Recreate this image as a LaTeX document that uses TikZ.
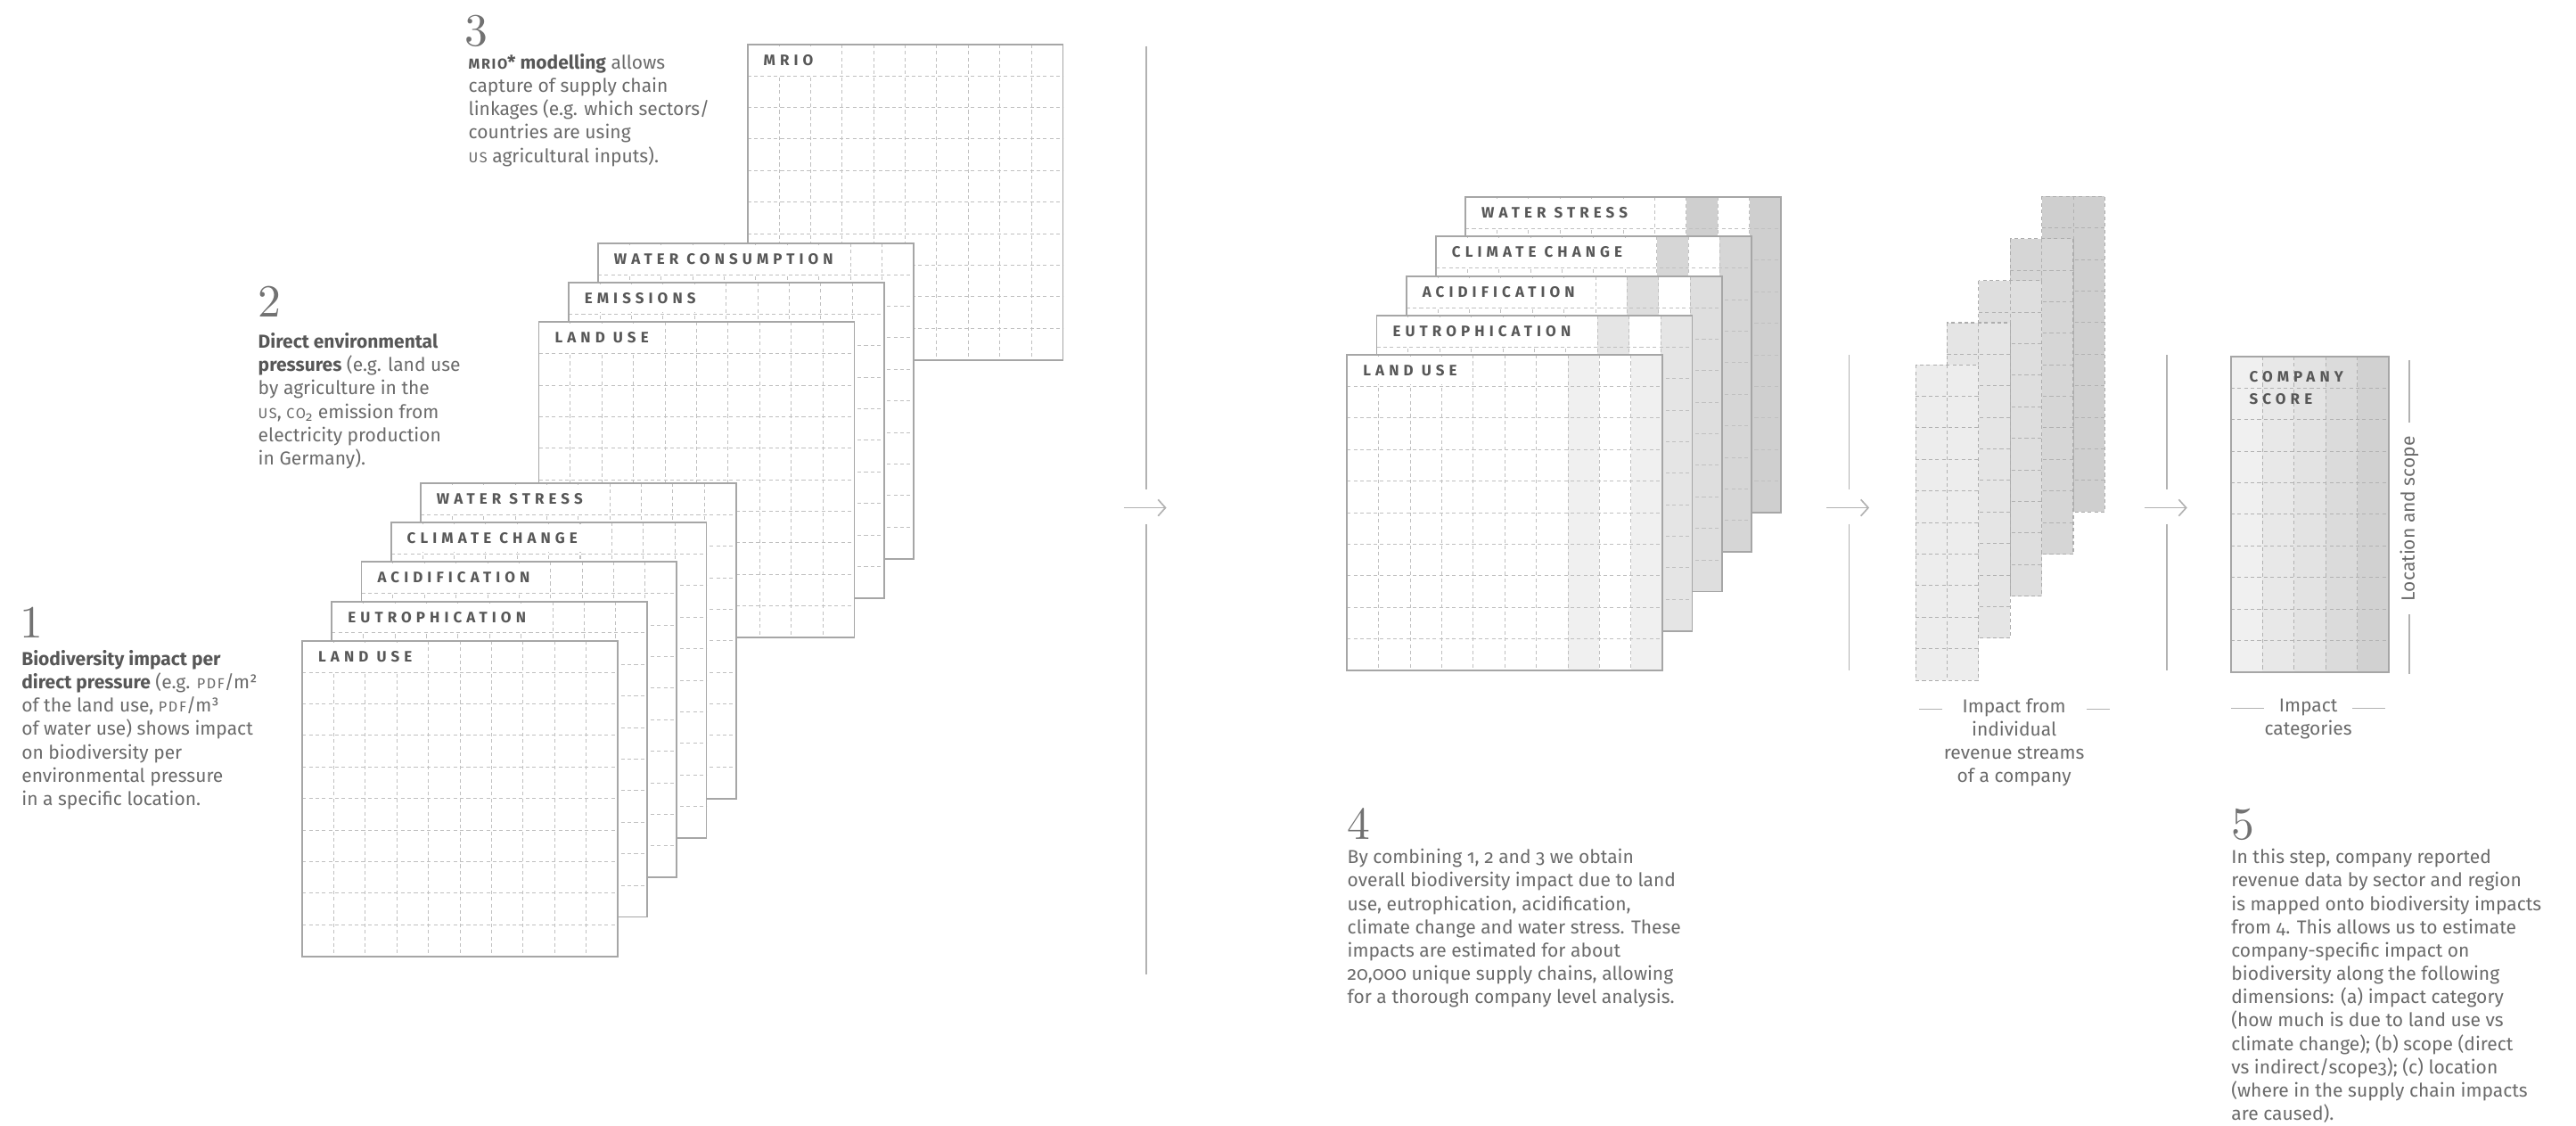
\documentclass[tikz,border=0pt]{standalone}
\usepackage{fontspec}
\setmainfont{Fira Sans}[Numbers=OldStyle]
\newfontfamily\labelfont{Fira Sans}[LetterSpace=30]
\newfontfamily\numfont{lmroman10-regular}[Extension=.otf]
\usepackage{xcolor}
\usepackage{tikz}
\usetikzlibrary{calc,arrows.meta,positioning}

\definecolor{inkgray}{HTML}{6A6A6A}
\definecolor{darkink}{HTML}{575757}
\definecolor{numgray}{HTML}{727272}
\definecolor{edgegray}{HTML}{A6A6A6}
\definecolor{dashgray}{HTML}{C0C0C0}
\definecolor{rulegray}{HTML}{B2B2B2}

% fake small caps and bold lead-ins
\newcommand{\smc}[1]{{\fontsize{8.8}{8.8}\selectfont\addfontfeature{LetterSpace=10}#1}}
\newcommand{\hl}[1]{{\bfseries\color{darkink}#1}}

\tikzset{
  cardline/.style={draw=edgegray, line width=1pt},
  gridline/.style={dashgray, line width=0.55pt, dash pattern=on 2.2pt off 1.8pt},
  stripline/.style={draw=black!32, line width=0.6pt, dash pattern=on 2.2pt off 1.8pt},
  cardlabel/.style={anchor=west, fill=white, inner xsep=2pt, inner ysep=0pt,
    minimum height=17pt, font=\labelfont\bfseries\fontsize{9.2}{10}\selectfont,
    text=darkink},
  boxlabel/.style={anchor=north west, inner sep=0pt, align=left,
    font=\labelfont\bfseries\fontsize{9.2}{14}\selectfont, text=darkink},
  bodytext/.style={anchor=north west, inner sep=0pt, align=left,
    font=\fontsize{11.4}{14.2}\selectfont, text=inkgray},
  captext/.style={inner sep=0pt, align=center,
    font=\fontsize{11.4}{14.2}\selectfont, text=inkgray},
  bignum/.style={anchor=base west, inner sep=0pt,
    font=\numfont\fontsize{28}{28}\selectfont, text=numgray},
  divider/.style={rulegray, line width=1pt},
  flowarrow/.style={rulegray, line width=0.9pt,
    -{Straight Barb[length=4.5pt,width=10pt]}},
}

% one 10x10 table card: [shade of columns 8 and 10]{name}{x}{y}{title}
\newcommand{\datacard}[5][white]{%
  \fill[white] (#3,#4) rectangle ++(192,192);
  \fill[#1] (#3+134.4,#4) rectangle ++(19.2,192);
  \fill[#1] (#3+172.8,#4) rectangle ++(19.2,192);
  \foreach \i in {1,...,9}{
    \draw[gridline] (#3+\i*19.2,#4) -- ++(0,192);
    \draw[gridline] (#3,#4+\i*19.2) -- ++(192,0);
  }
  \node[cardlabel] (#2) at (#3+7.6,#4+9.6) {#5};
  \draw[cardline] (#3,#4) rectangle ++(192,192);
}

\begin{document}
\begin{tikzpicture}[x=1pt, y=-1pt]
  \useasboundingbox (0,0) rectangle (1568,685);

  % Step 3: MRIO table at the back
  \datacard{mrio}{455}{27}{MRIO}
  % Step 2: direct environmental pressures
  \datacard{wcons}{364}{148}{WATER CONSUMPTION}
  \datacard{emis}{346}{172}{EMISSIONS}
  \datacard{luse}{328}{196}{LAND USE}
  % Step 1: impact per pressure, back to front
  \foreach \k/\title in {4/WATER STRESS,3/CLIMATE CHANGE,2/ACIDIFICATION,
                         1/EUTROPHICATION,0/LAND USE}
    \datacard{one\k}{184+\k*18}{390-\k*24}{\title};

  % Step 4: combined impacts, shaded columns
  \foreach \k/\title/\shade in {4/WATER STRESS/19,3/CLIMATE CHANGE/16,
                                2/ACIDIFICATION/13,1/EUTROPHICATION/10,0/LAND USE/6}
    \datacard[black!\shade]{four\k}{820+\k*18}{216-\k*24}{\title};

  % Dividers with a gap for the arrow
  \foreach \x/\top/\bot [count=\n] in {697.7/28/593,1125.5/216/408,1319/216/408} {
    \draw[divider] (\x,\top) -- (\x,298);
    \draw[divider] (\x,319) -- (\x,\bot);
    \coordinate (tail\n) at (\x-13.7,309);
    \coordinate (tip\n) at (\x+12.3,309);
    \draw[flowarrow] (tail\n) -- (tip\n);
  }

  % Revenue streams, back to front
  \foreach \k/\shade in {4/19,3/16,2/13,1/10,0/7} {
    \begin{scope}[shift={(1166+\k*19.2,222-\k*25.6)}]
      \fill[black!\shade] (0,0) rectangle (38.4,192);
      \draw[gridline, black!30] (19.2,0) -- (19.2,192);
      \foreach \r in {1,...,9}
        \draw[gridline, black!30] (0,\r*19.2) -- (38.4,\r*19.2);
      \draw[stripline] (0,0) rectangle (38.4,192);
    \end{scope}
  }

  % Step 5: company score
  \foreach \c/\shade in {0/6,1/9,2/11,3/14,4/18}
    \fill[black!\shade] (1358+\c*19.2,217) rectangle ++(19.2,192);
  \foreach \i in {1,...,4}
    \draw[gridline, black!30] (1358+\i*19.2,217) -- ++(0,192);
  \foreach \i in {1,...,9}
    \draw[gridline, black!30] (1358,217+\i*19.2) -- ++(96,0);
  \draw[cardline] (1358,217) rectangle ++(96,192);
  \node[boxlabel] (score) at (1369,225.5) {COMPANY\\SCORE};

  % Captions under and beside
  \node[captext, anchor=north] (streams) at (1226,425)
    {Impact from\\individual\\revenue streams\\of a company};
  \draw[divider, line width=0.8pt] (1168,431.5) -- (1182,431.5);
  \draw[divider, line width=0.8pt] (1270,431.5) -- (1284,431.5);
  \node[captext, anchor=north] (categories) at (1405,425) {Impact\\categories};
  \draw[divider, line width=0.8pt] (1358,431) -- (1378,431);
  \draw[divider, line width=0.8pt] (1432,431) -- (1452,431);
  \node[captext, rotate=90] (where) at (1466.5,315.6) {Location and scope};
  \draw[divider, line width=0.8pt] (1466.5,219) -- (1466.5,257);
  \draw[divider, line width=0.8pt] (1466.5,374) -- (1466.5,410);

  % Step numbers and notes
  \node[bignum] (num1) at (12,388) {1};
  \node[bodytext] (note1) at (13,395.5)
    {\hl{Biodiversity impact per}\\
     \hl{direct pressure} (e.g. \smc{PDF}/m²\\
     of the land use, \smc{PDF}/m³\\
     of water use) shows impact\\
     on biodiversity per\\
     environmental pressure\\
     in a specific location.};
  \node[bignum] (num2) at (157,193) {2};
  \node[bodytext] (note2) at (157,202.5)
    {\hl{Direct environmental}\\
     \hl{pressures} (e.g. land use\\
     by agriculture in the\\
     \smc{US}, \smc{CO}\textsubscript{2} emission from\\
     electricity production\\
     in Germany).};
  \node[bignum] (num3) at (283,28) {3};
  \node[bodytext] (note3) at (285,32.5)
    {\hl{\smc{MRIO}* modelling} allows\\
     capture of supply chain\\
     linkages (e.g. which sectors/\\
     countries are using\\
     \smc{US} agricultural inputs).};
  \node[bignum] (num4) at (820,511) {4};
  \node[bodytext] (note4) at (820,516.5)
    {By combining 1, 2 and 3 we obtain\\
     overall biodiversity impact due to land\\
     use, eutrophication, acidification,\\
     climate change and water stress. These\\
     impacts are estimated for about\\
     20,000 unique supply chains, allowing\\
     for a thorough company level analysis.};
  \node[bignum] (num5) at (1358,511) {5};
  \node[bodytext] (note5) at (1358,516.5)
    {In this step, company reported\\
     revenue data by sector and region\\
     is mapped onto biodiversity impacts\\
     from 4. This allows us to estimate\\
     company-specific impact on\\
     biodiversity along the following\\
     dimensions: (a) impact category\\
     (how much is due to land use vs\\
     climate change); (b) scope (direct\\
     vs indirect/scope3); (c) location\\
     (where in the supply chain impacts\\
     are caused).};
\end{tikzpicture}
\end{document}
